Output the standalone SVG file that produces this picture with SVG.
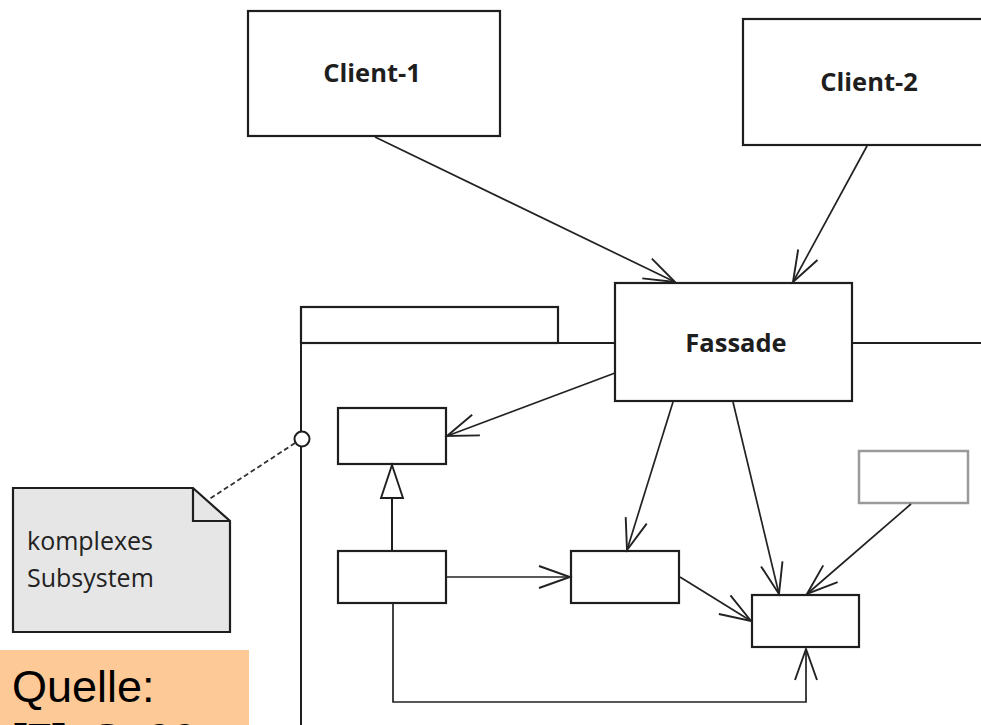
<svg xmlns="http://www.w3.org/2000/svg" width="981" height="725" viewBox="0 0 981 725">
  <style>
    .box { fill: #ffffff; stroke: #1e1e1e; stroke-width: 2.2; }
    .boxgray { fill: #ffffff; stroke: #9a9a9a; stroke-width: 2.5; }
    .line { fill: none; stroke: #1e1e1e; stroke-width: 2; }
    .conn { fill: none; stroke: #222222; stroke-width: 1.7; marker-end: url(#open); }
    .title { font-family: "Open Sans", "DejaVu Sans", sans-serif; font-weight: 700; font-size: 25.5px; fill: #1e1e1e; text-anchor: middle; }
    .note { font-family: "Open Sans", "DejaVu Sans", sans-serif; font-size: 25px; fill: #222222; }
    .src { font-family: "Liberation Sans", Arial, sans-serif; font-size: 45px; fill: #000000; }
  </style>
  <defs>
    <marker id="open" markerUnits="userSpaceOnUse" markerWidth="40" markerHeight="40" viewBox="-36 -20 40 40" refX="0" refY="0" orient="auto" overflow="visible">
      <path d="M-31,-11 L0,0 L-31,11" fill="none" stroke="#222222" stroke-width="1.9"/>
    </marker>
  </defs>

  <rect width="981" height="725" fill="#ffffff"/>

  <!-- package frame of the subsystem -->
  <g id="subsystem-package">
    <rect x="301" y="307" width="257" height="36" class="box"/>
    <path d="M301,343 V726 M301,343 H615 M852,343 H982" class="line"/>
    <circle cx="302" cy="439" r="7.5" fill="#ffffff" stroke="#1e1e1e" stroke-width="2"/>
  </g>

  <g id="client-1">
    <rect x="248" y="11" width="252" height="125" class="box"/>
    <text x="372" y="82" class="title">Client-1</text>
  </g>

  <g id="client-2">
    <rect x="743" y="19" width="250" height="126" class="box"/>
    <text x="869" y="91" class="title">Client-2</text>
  </g>

  <g id="fassade">
    <rect x="615" y="283" width="237" height="118" class="box"/>
    <text x="736" y="352" class="title">Fassade</text>
  </g>

  <g id="class-a">
    <rect x="338" y="408" width="108" height="56" class="box"/>
  </g>

  <g id="class-b">
    <rect x="338" y="551" width="108" height="52" class="box"/>
  </g>

  <g id="class-c">
    <rect x="571" y="551" width="108" height="52" class="box"/>
  </g>

  <g id="class-d">
    <rect x="752" y="595" width="107" height="52" class="box"/>
  </g>

  <g id="class-e">
    <rect x="859" y="451" width="109" height="52" class="boxgray"/>
  </g>

  <g id="note">
    <path d="M13,488 H193 L230,521 V632 H13 Z" fill="#e6e6e6" stroke="#1e1e1e" stroke-width="2.2"/>
    <path d="M193,488 V521 H230" fill="none" stroke="#1e1e1e" stroke-width="2.2"/>
    <text x="27" y="550" class="note">komplexes</text>
    <text x="27" y="587" class="note">Subsystem</text>
  </g>

  <g id="source">
    <rect x="0" y="650" width="249" height="80" fill="#fdc997"/>
    <text x="12" y="702" class="src">Quelle:</text>
    <text x="12" y="755" class="src" font-weight="700">[7], S. 90</text>
  </g>

  <g id="connectors">
    <path d="M375,137 L675,282" class="conn"/>
    <path d="M867,146 L793,282" class="conn"/>
    <path d="M615,373 L447,436" class="conn"/>
    <path d="M673,402 L627,550" class="conn"/>
    <path d="M733,402 L779,594" class="conn"/>
    <path d="M911,504 L807,594" class="conn"/>
    <path d="M446,577 L570,577" class="conn"/>
    <path d="M680,577 L751,621" class="conn"/>
    <path d="M393,603 V702 H806 V649" class="conn"/>
    <!-- generalization: B inherits from A -->
    <path d="M392,551 V498" class="line"/>
    <path d="M392,465 L403,498 H381 Z" fill="#ffffff" stroke="#1e1e1e" stroke-width="1.9"/>
    <!-- note anchor -->
    <path d="M295,443 L208,500" fill="none" stroke="#333333" stroke-width="1.8" stroke-dasharray="5,3"/>
  </g>
</svg>
